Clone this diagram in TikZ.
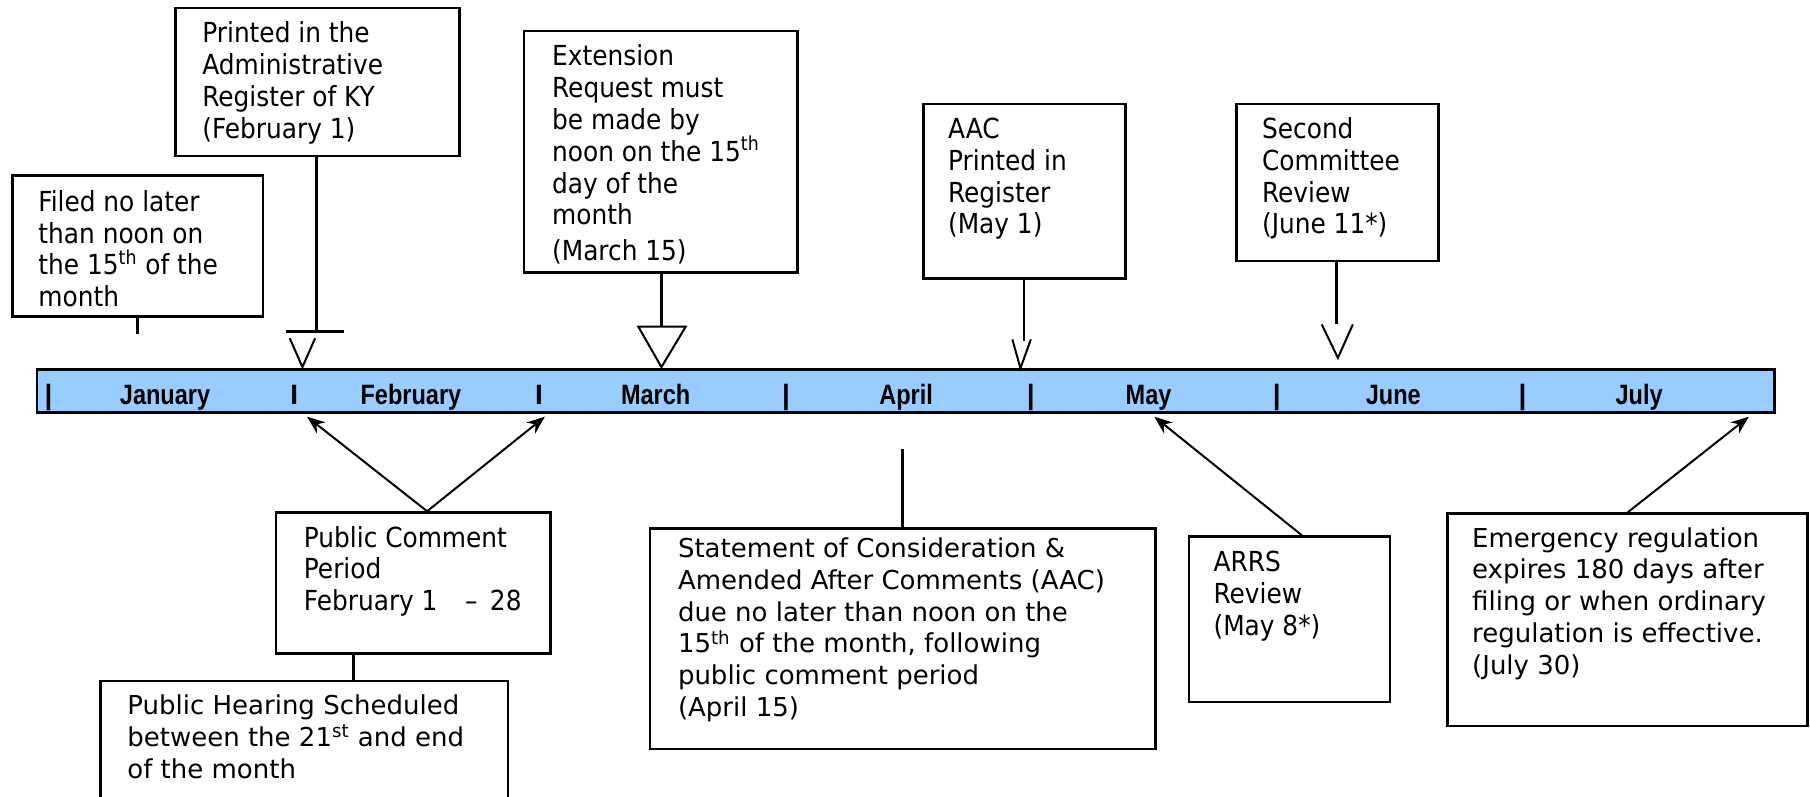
\documentclass[tikz,border=0pt]{standalone}
\usepackage{fontspec}
\usepackage{graphicx}
\usetikzlibrary{fit,arrows.meta,calc}
\newfontfamily\verd{DejaVu Sans}
\newfontfamily\taho{DejaVu Sans Condensed}
\newfontfamily\arialf{Liberation Sans}
\definecolor{barblue}{HTML}{99CCFF}
\newcommand\ls[1]{\parbox[t]{12cm}{#1}}
\newcommand\mn[1]{\scalebox{0.84}[1]{#1}}
\tikzset{
 boxst/.style={draw, line width=1.3pt, inner sep=0pt, fill=white},
 vtxt/.style={anchor=base west, inner sep=0pt, font=\verd\fontsize{13}{15.9}\selectfont},
 ttxt/.style={anchor=base west, inner sep=0pt, font=\taho\fontsize{13.8}{15.9}\selectfont},
 mon/.style={anchor=base, inner sep=0pt, font=\arialf\bfseries\fontsize{14}{17}\selectfont},
 conn/.style={line width=1.3pt},
 vst/.style={line width=1pt},
 arr/.style={line width=1pt, -{Stealth[length=9pt,width=7pt]}},
}
\begin{document}
\begin{tikzpicture}[x=0.57717pt,y=-0.57717pt]
\useasboundingbox (0,0) rectangle (1568,690);
\fill[white] (0,0) rectangle (1568,690);

% timeline bar
\node[draw, line width=1.4pt, fill=barblue, inner sep=0pt, fit={(32,320) (1537,357)}] (bar) {};
\node[mon] (s0) at (42,350) {|};
\node[mon] (jan) at (143,350) {\mn{January}};
\node[mon] (s1) at (255,350) {I};
\node[mon] (feb) at (356,350) {\mn{February}};
\node[mon] (s2) at (467,350) {I};
\node[mon] (mar) at (568,350) {\mn{March}};
\node[mon] (s3) at (681,350) {|};
\node[mon] (apr) at (785,350) {\mn{April}};
\node[mon] (s4) at (893,350) {|};
\node[mon] (may) at (995,350) {\mn{May}};
\node[mon] (s5) at (1106,350) {|};
\node[mon] (jun) at (1207,350) {\mn{June}};
\node[mon] (s6) at (1319,350) {|};
\node[mon] (jul) at (1420,350) {\mn{July}};

% boxes above
\node[boxst, fit={(11,152) (228,274)}] (filed) {};
\node[ttxt] (filedtx) at (33,183) {\ls{Filed no later\\than noon on\\the 15\textsuperscript{th} of the\\month}};

\node[boxst, fit={(152,7) (398,135)}] (printed) {};
\node[ttxt] (printedtx) at (175,37) {\ls{Printed in the\\Administrative\\Register of KY\\(February 1)}};

\node[boxst, fit={(454,27) (691,236)}] (ext) {};
\node[ttxt] (exttx) at (478,57) {\ls{Extension\\Request must\\be made by\\noon on the 15\textsuperscript{th}\\day of the\\month\\[2pt](March 15)}};

\node[boxst, fit={(800,90) (975,241)}] (aac) {};
\node[ttxt] (aactx) at (821,120) {\ls{AAC\\Printed in\\Register\\(May 1)}};

\node[boxst, fit={(1071,90) (1246,226)}] (second) {};
\node[ttxt] (secondtx) at (1093,120) {\ls{Second\\Committee\\Review\\(June 11*)}};

% boxes below
\node[boxst, fit={(239,444) (477,566)}] (pc) {};
\node[ttxt] (pctx) at (263,474) {\ls{Public Comment\\Period\\February 1\hspace{1em}–\hspace{0.45em}28}};

\node[boxst, fit={(87,590) (440,710)}] (hearing) {};
\node[vtxt] (hearingtx) at (110,619) {\ls{Public Hearing Scheduled\\between the 21\textsuperscript{st} and end\\of the month}};

\node[boxst, fit={(563,458) (1001,649)}] (stmt) {};
\node[vtxt] (stmttx) at (587,483) {\ls{Statement of Consideration \&\\Amended After Comments (AAC)\\due no later than noon on the\\15\textsuperscript{th} of the month, following\\public comment period\\(April 15)}};

\node[boxst, fit={(1030,465) (1204,608)}] (arrs) {};
\node[ttxt] (arrstx) at (1051,495) {\ls{ARRS\\Review\\(May 8*)}};

\node[boxst, fit={(1254,445) (1566,629)}] (emer) {};
\node[vtxt] (emertx) at (1275,474) {\ls{Emergency regulation\\expires 180 days after\\filing or when ordinary\\regulation is effective.\\(July 30)}};

% connectors above the bar
\coordinate (fstub) at (119,289);
\draw[conn] (filed.south -| fstub) -- (fstub);

\coordinate (pT) at (274,287);
\draw[conn] (printed.south -| pT) -- (pT);
\draw[conn] ($(pT)+(-26,0)$) -- ($(pT)+(24,0)$);
\draw[vst] ($(pT)+(-23,6)$) -- ($(pT)+(-12,31)$) -- ($(pT)+(-1,6)$);

\coordinate (eT) at (573,283);
\draw[conn] (ext.south -| eT) -- (eT);
\draw[vst, fill=white, line join=miter] ($(eT)+(-20,0)$) -- ($(eT)+(0,35)$) -- ($(eT)+(21,0)$) -- cycle;

\coordinate (aT) at (887,295);
\draw[conn] (aac.south -| aT) -- (aT);
\draw[vst] ($(aT)+(-10,-1)$) -- ($(aT)+(-3,24)$) -- ($(aT)+(6,-1)$);

\coordinate (sT) at (1158,281);
\draw[conn] (second.south -| sT) -- (sT);
\draw[vst] ($(sT)+(-13,0)$) -- ($(sT)+(1,29)$) -- ($(sT)+(14,0)$);

% connectors below the bar
\coordinate (pcA) at (370,0);
\coordinate (febA) at (266,361);
\coordinate (marA) at (472,361);
\draw[arr] (pc.north -| pcA) -- (febA);
\draw[arr] (pc.north -| pcA) -- (marA);

\coordinate (phx) at (306,0);
\draw[conn] (pc.south -| phx) -- (hearing.north -| phx);

\coordinate (stT) at (782,389);
\draw[conn] (stmt.north -| stT) -- (stT);

\coordinate (arrsA) at (1128,0);
\coordinate (mayA) at (1000,361);
\draw[arr] (arrs.north -| arrsA) -- (mayA);

\coordinate (emA) at (1410,0);
\coordinate (julA) at (1515,361);
\draw[arr] (emer.north -| emA) -- (julA);
\end{tikzpicture}
\end{document}
